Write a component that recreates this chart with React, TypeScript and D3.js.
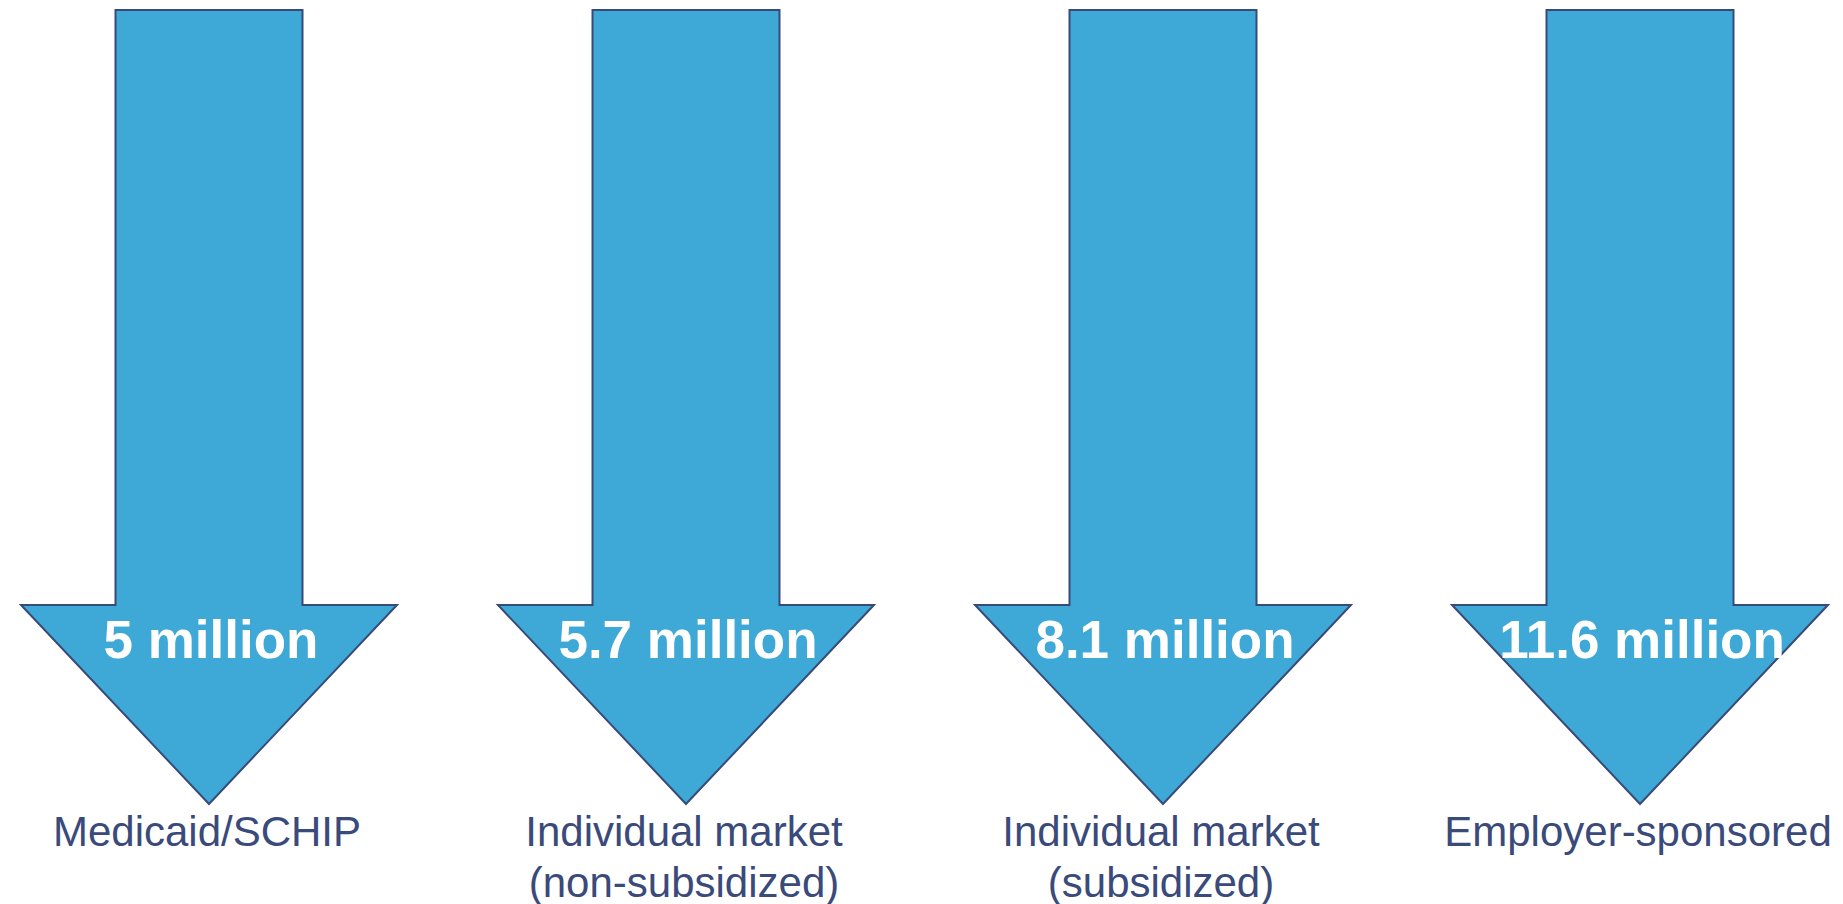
import React from 'react'
import * as d3 from 'd3'

// categories (bottom labels, one or two lines each)
const categories = ['Medicaid/SCHIP', 'Individual market (non-subsidized)', 'Individual market (subsidized)', 'Employer-sponsored']
const categoryLines = [['Medicaid/SCHIP'], ['Individual market', '(non-subsidized)'], ['Individual market', '(subsidized)'], ['Employer-sponsored']]
// values shown inside each arrow head (millions)
const values = [5, 5.7, 8.1, 11.6]

const WIDTH = 1843
const HEIGHT = 904

export default function App() {
  const x = d3.scalePoint<string>().domain(categories).range([209, 1640])

  // vertical layout of every arrow
  const shaftTop = 10
  const headTop = 605
  const tip = 804
  const shaftHalf = 93.5
  const headHalf = 188

  const line = d3.line<[number, number]>()

  const arrowPath = (cx: number) =>
    line([
      [cx - shaftHalf, shaftTop],
      [cx + shaftHalf, shaftTop],
      [cx + shaftHalf, headTop],
      [cx + headHalf, headTop],
      [cx, tip],
      [cx - headHalf, headTop],
      [cx - shaftHalf, headTop],
    ]) + 'Z'

  return (
    <svg
      width={WIDTH}
      height={HEIGHT}
      style={{ position: 'absolute', left: 0, top: 0, background: '#fff' }}
      fontFamily="'Liberation Sans', Arial, sans-serif"
    >
      {categories.map((c, i) => {
        const cx = x(c) as number
        return (
          <g key={c}>
            <path d={arrowPath(cx)} fill="#3EA8D6" stroke="#374A78" strokeWidth={2} strokeLinejoin="miter" />
            <text x={cx + 2} y={658} textAnchor="middle" fontSize={53} fontWeight="bold" fill="#fff">
              {`${values[i]} million`}
            </text>
            {categoryLines[i].map((t, j) => (
              <text key={t} x={cx - 2} y={846 + j * 51} textAnchor="middle" fontSize={42} fill="#3A4A7A">
                {t}
              </text>
            ))}
          </g>
        )
      })}
    </svg>
  )
}
